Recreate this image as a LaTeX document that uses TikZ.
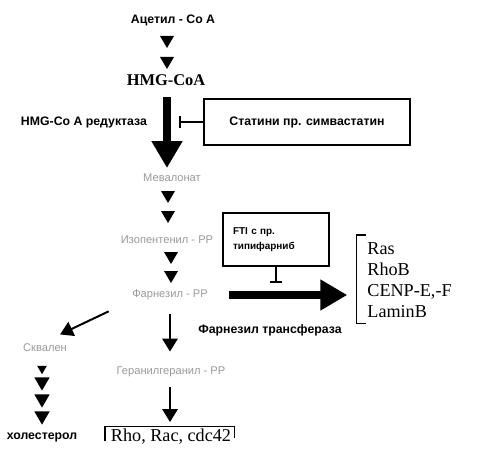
\documentclass[tikz,border=0pt]{standalone}
\usepackage{fontspec}
\setmainfont{Liberation Sans}
\newfontfamily\serifpath{Liberation Serif}
\usetikzlibrary{arrows.meta}

\begin{document}
\begin{tikzpicture}[x=0.03cm,y=-0.03cm,
  lbl/.style={font=\bfseries\fontsize{10.5}{12}\selectfont,inner sep=1pt},
  met/.style={text=black!40,font=\fontsize{9.5}{11}\selectfont,inner sep=1pt},
  prot/.style={font=\serifpath\fontsize{15.5}{18}\selectfont,inner sep=1pt},
  boxed/.style={draw,line width=1pt},
  bigarrow/.style={line width=7pt,-{Triangle[width=25pt,length=23pt]}},
  midarrow/.style={line width=1.7pt,-{Triangle[width=13pt,length=11pt]}},
  inhib/.style={line width=1.7pt,-{Bar[width=11pt]}},
  dtri/.pic={\fill (-7,-6) -- (7,-6) -- (0,6) -- cycle;}]
  \useasboundingbox (0,0) rectangle (483,452);
  \coordinate (col) at (167,0);

  % main pathway
  \node[lbl] (acet) at (173,20) {Ацетил - Co A};
  \node[font=\serifpath\bfseries\fontsize{14}{16}\selectfont,inner sep=1pt] (hmg) at (166,80) {HMG-CoA};
  \node[lbl] (red) at (84,122) {HMG-Co A редуктаза};
  \node[met] (mev) at (172,178) {Мевалонат};
  \node[met] (ipp) at (167,240) {Изопентенил - PP};
  \node[met] (fpp) at (170,295) {Фарнезил - PP};
  \node[met] (ggpp) at (171,372) {Геранилгеранил - PP};
  \node[met] (sq) at (45,348) {Сквален};
  \node[lbl] (chol) at (42,437) {холестерол};

  % inhibitors
  \node[boxed,lbl,minimum width=206*0.03cm,minimum height=46*0.03cm] (stat) at (307,122) {Статини пр. симвастатин};
  \node[boxed,font=\bfseries\fontsize{8.5}{13}\selectfont,text width=86*0.03cm,inner xsep=10*0.03cm,
    minimum height=53*0.03cm,align=left] (fti) at (276,239.5) {FTI с пр.\\типифарниб};
  \node[lbl] (ft) at (270,330) {Фарнезил трансфераза};

  % farnesylated proteins
  \node[prot,align=left,anchor=west] (lst) at (366,280) {Ras\\RhoB\\CENP-E,-F\\LaminB};
  \node[prot] (rho) at (171,437) {Rho, Rac, cdc42};

  % stacked steps
  \foreach \y in {42,63}
    \pic at (167,\y) {dtri};
  \foreach \y in {197,217}
    \pic at (168,\y) {dtri};
  \foreach \y in {258,277}
    \pic at (171,\y) {dtri};
  \pic[scale=0.7] at (42,370) {dtri};
  \foreach \y in {384,401,418}
    \pic[scale=1.1] at (42,\y) {dtri};

  % arrows
  \draw[bigarrow,shorten <=9pt,shorten >=4pt] (hmg.south -| col) -- (mev.north -| col);
  \draw[inhib,shorten >=10pt] (stat.west) -- (stat.west -| col);
  \draw[bigarrow,shorten <=17pt,shorten >=16pt] (fpp.east) -- (lst.west |- fpp.east);
  \draw[inhib,shorten >=10pt] (fti.south) -- (fti.south |- fpp.east);
  \draw[midarrow,shorten <=11pt,shorten >=12pt] (fpp.south) -- (ggpp.north -| fpp.south);
  \draw[midarrow] ([xshift=-19pt,yshift=-8.5pt]fpp.south west) -- ([xshift=-7pt,yshift=7pt]sq.north east);
  \draw[midarrow,shorten <=7pt,shorten >=5pt] (ggpp.south -| fpp.south) -- (rho.north -| fpp.south);

  % brackets
  \draw[line width=1.2pt] ([xshift=0pt,yshift=5pt]lst.north west) -- ([xshift=-8pt,yshift=5pt]lst.north west)
    -- ([xshift=-8pt,yshift=-4pt]lst.south west) -- ([xshift=0pt,yshift=-4pt]lst.south west);
  \draw[line width=1.2pt] ([xshift=-4pt,yshift=4pt]rho.south west) -- ([xshift=-4pt,yshift=1pt]rho.north west)
    -- ([xshift=2pt,yshift=1pt]rho.north east) -- ([xshift=2pt,yshift=-1pt]rho.east);
\end{tikzpicture}
\end{document}
